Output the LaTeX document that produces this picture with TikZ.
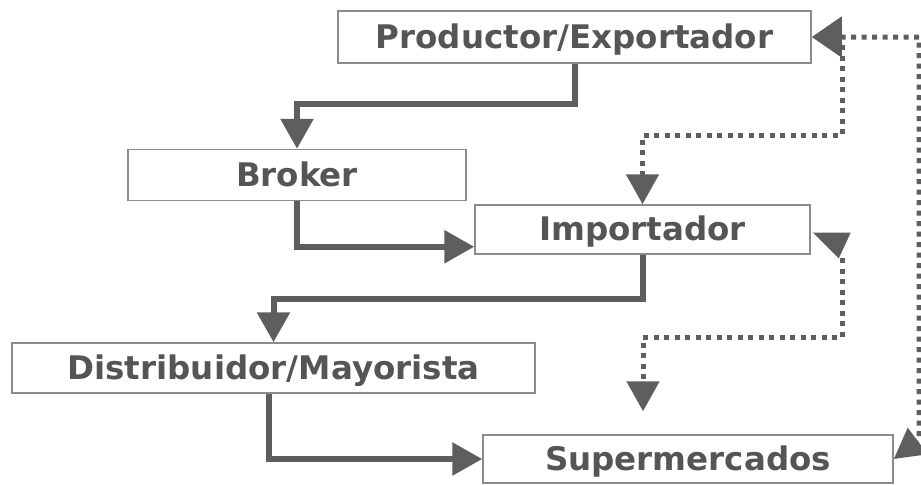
\documentclass[tikz,border=0pt]{standalone}
\usepackage{fontspec}
\setmainfont{DejaVu Sans}
\usetikzlibrary{arrows.meta,positioning}
\definecolor{linegray}{HTML}{5E5E5E}
\definecolor{boxgray}{HTML}{8C8C8C}
\definecolor{textgray}{HTML}{555555}

\begin{document}
\begin{tikzpicture}[x=1pt,y=1pt,
  box/.style={draw=boxgray, line width=1.5pt, text=textgray, inner sep=0pt,
    text depth=2pt, font=\fontsize{32.5}{34}\selectfont\bfseries},
  flow/.style={draw=linegray, line width=6pt, -{Triangle[length=30pt,width=32pt]}},
  dots/.style={draw=linegray, line width=5pt, dash pattern=on 5pt off 5.5pt,
    -{Triangle[length=30pt,width=32pt]}}]
\useasboundingbox (0,0) rectangle (921,-485);

\node[box, minimum width=473pt, minimum height=52pt] (prod) at (574.5,-37) {Productor/Exportador};
\node[box, minimum width=338pt, minimum height=51pt] (brok) at (297,-175) {Broker};
\node[box, minimum width=335pt, minimum height=49pt] (imp) at (642.5,-229.5) {Importador};
\node[box, minimum width=523pt, minimum height=50pt] (dist) at (273.5,-368) {Distribuidor/Mayorista};
\node[box, minimum width=410pt, minimum height=48pt] (sup) at (688,-459) {Supermercados};

% main chain
\draw[flow] (prod.south) -- ++(0,-40) -| (brok.north);
\draw[flow] (brok.south) |- ([yshift=8pt]imp.south west);
\draw[flow] (imp.south) -- ++(0,-44) -| (dist.north);
\draw[flow] ([xshift=-5pt]dist.south) |- (sup.west);

% direct channels
\coordinate (rtop) at (919,-37);
\coordinate (rbot) at (919,-440);
\coordinate (ptap) at (842,-45);
\coordinate (itap) at (842,-258);
\draw[dots, {Triangle[length=30pt,width=40pt]}-{Triangle[length=30pt,width=32pt]}]
  (prod.east) -- (rtop) -- (rbot) -- (sup.east);
\draw[dots] (ptap) -- ++(0,-90) -| (imp.north);
\draw[dots] (itap) -- ++(0,-79) -| ([xshift=-45pt,yshift=23pt]sup.north);
\fill[linegray] ([shift={(2,-3)}]imp.east) -- ++(38,0) -- ++(-12,-26) -- cycle;
\end{tikzpicture}
\end{document}
